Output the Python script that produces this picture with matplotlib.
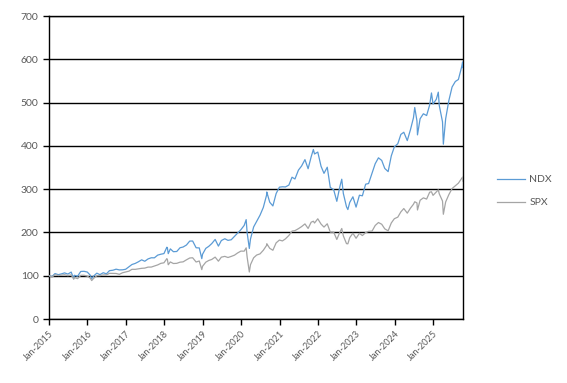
import matplotlib
matplotlib.use("Agg")
import matplotlib.pyplot as plt
import matplotlib.dates as mdates
import pandas as pd

# ---- data (indexed, start = 100) ----
ndx_dates = ["2015-01-02","2015-01-30","2015-02-27","2015-03-31","2015-04-30","2015-05-29","2015-06-30","2015-07-31","2015-08-24","2015-08-31","2015-09-30","2015-10-30","2015-11-30","2015-12-31",
             "2016-01-29","2016-02-11","2016-02-29","2016-03-31","2016-04-29","2016-05-31","2016-06-30","2016-07-29","2016-08-31","2016-09-30","2016-10-31","2016-11-30","2016-12-30",
             "2017-01-31","2017-02-28","2017-03-31","2017-04-28","2017-05-31","2017-06-30","2017-07-31","2017-08-31","2017-09-29","2017-10-31","2017-11-30","2017-12-29",
             "2018-01-26","2018-01-31","2018-02-08","2018-02-28","2018-03-29","2018-04-30","2018-05-31","2018-06-29","2018-07-31","2018-08-31","2018-09-28","2018-10-31","2018-11-30","2018-12-24","2018-12-31",
             "2019-01-31","2019-02-28","2019-03-29","2019-04-30","2019-05-31","2019-06-28","2019-07-31","2019-08-30","2019-09-30","2019-10-31","2019-11-29","2019-12-31",
             "2020-01-31","2020-02-19","2020-02-28","2020-03-20","2020-03-31","2020-04-30","2020-05-29","2020-06-30","2020-07-31","2020-08-31","2020-09-02","2020-09-30","2020-10-30","2020-11-30","2020-12-31",
             "2021-01-29","2021-02-26","2021-03-31","2021-04-30","2021-05-28","2021-06-30","2021-07-30","2021-08-31","2021-09-30","2021-10-29","2021-11-19","2021-11-30","2021-12-31",
             "2022-01-31","2022-02-28","2022-03-31","2022-04-29","2022-05-31","2022-06-30","2022-07-29","2022-08-16","2022-08-31","2022-09-30","2022-10-13","2022-10-31","2022-11-30","2022-12-30",
             "2023-01-31","2023-02-28","2023-03-31","2023-04-28","2023-05-31","2023-06-30","2023-07-31","2023-08-31","2023-09-29","2023-10-31","2023-11-30","2023-12-29",
             "2024-01-31","2024-02-29","2024-03-28","2024-04-30","2024-05-31","2024-06-28","2024-07-10","2024-07-31","2024-08-05","2024-08-30","2024-09-30","2024-10-31","2024-11-29","2024-12-16","2024-12-31",
             "2025-01-31","2025-02-19","2025-02-28","2025-03-31","2025-04-08","2025-04-30","2025-05-30","2025-06-30","2025-07-31","2025-08-29","2025-09-30","2025-10-08","2025-10-10"]
ndx_values = [100.0,98.1,105.1,102.5,104.4,106.6,103.9,108.5,93.4,101.1,98.9,109.9,110.3,108.6,
              101.2,93.3,99.3,106.0,102.6,107.0,104.4,111.8,112.8,115.2,113.5,113.7,115.0,
              120.9,126.0,128.5,132.0,136.8,133.5,138.9,141.6,141.4,147.7,149.8,151.2,
              166.0,164.3,151.1,162.1,155.6,156.1,164.7,166.4,171.0,180.1,180.3,164.7,164.3,139.5,149.6,
              163.3,167.9,174.4,183.9,168.5,181.4,185.5,181.8,183.2,191.1,198.7,206.5,
              216.3,229.7,200.0,163.1,184.7,212.8,225.9,240.1,257.8,286.3,293.6,269.9,261.3,290.0,304.7,
              305.6,305.2,309.5,327.7,323.6,344.1,353.6,368.4,347.3,374.7,391.8,381.4,385.8,
              353.0,336.6,350.8,303.9,298.9,272.0,306.1,323.1,290.1,259.4,253.0,269.6,282.5,258.6,
              286.1,284.7,311.6,313.1,337.0,358.9,372.5,366.5,347.9,340.7,377.0,397.8,
              405.1,426.6,431.6,412.3,438.2,465.3,488.8,457.8,425.5,462.8,474.3,470.2,494.8,522.4,496.7,
              507.8,524.2,493.7,455.7,404.0,462.7,504.5,536.1,548.9,553.5,583.5,594.0,581.0]

spx_dates = ndx_dates
spx_values = [100.0,96.9,102.3,100.5,101.4,102.4,100.2,102.2,92.0,95.8,93.3,101.0,101.1,99.3,
              94.3,88.9,93.9,100.1,100.3,101.9,102.0,105.6,105.5,105.3,103.3,106.9,108.8,
              110.7,114.9,114.8,115.8,117.2,117.7,120.0,120.1,122.4,125.1,128.7,129.9,
              139.6,137.2,125.4,131.9,128.3,128.7,131.4,132.1,136.8,141.0,141.6,131.8,134.1,114.2,121.8,
              131.4,135.3,137.7,143.1,133.7,143.0,144.8,142.2,144.7,147.6,152.6,157.0,
              156.8,164.5,143.5,108.7,125.6,141.5,147.9,150.6,158.9,170.1,174.0,163.4,158.9,176.0,182.5,
              180.5,185.2,193.1,203.2,204.3,208.8,213.6,219.8,209.3,223.8,226.0,221.9,231.6,
              219.4,212.5,220.1,200.8,200.8,183.9,200.7,209.2,192.2,174.2,173.8,188.1,198.3,186.6,
              198.1,192.9,199.7,202.6,203.1,216.2,223.0,219.0,208.4,203.8,222.0,231.8,
              235.5,247.6,255.3,244.7,256.5,265.3,271.0,268.3,252.0,274.4,280.0,277.2,293.1,294.0,285.8,
              293.5,298.5,289.4,272.7,242.1,270.6,287.3,301.5,308.0,313.9,325.0,328.1,318.4]

series_names = ["NDX", "SPX"]
y_ticks = [0, 100, 200, 300, 400, 500, 600, 700]
x_tick_years = list(range(2015, 2026))

# ---- plot ----
plt.rcParams['font.family'] = ['Lato', 'DejaVu Sans']
fig = plt.figure(figsize=(5.67, 3.83), dpi=100)
ax = fig.add_axes([0.0864, 0.167, 0.7302, 0.791])

nd = pd.to_datetime(ndx_dates)
sd = pd.to_datetime(spx_dates)
ax.plot(nd, ndx_values, color='#5B9BD5', lw=0.9, label=series_names[0], zorder=3)
ax.plot(sd, spx_values, color='#A5A5A5', lw=0.9, label=series_names[1], zorder=3)

ax.set_ylim(0, 700)
ax.set_yticks(y_ticks)
ax.set_xlim(pd.Timestamp("2015-01-01"), pd.Timestamp("2025-10-12"))
ax.set_xticks([pd.Timestamp(f"{y}-01-01") for y in x_tick_years])
ax.xaxis.set_major_formatter(mdates.DateFormatter("Jan-%Y"))
ax.grid(axis='y', color='black', lw=1.0, zorder=1)
for s in ax.spines.values():
    s.set_color('black')
    s.set_linewidth(1.0)
ax.tick_params(axis='both', direction='out', length=4, width=1, color='black',
               labelcolor='#595959')
ax.tick_params(axis='y', labelsize=7.5)
ax.tick_params(axis='x', labelsize=6.6, pad=3)
for lab in ax.get_xticklabels():
    lab.set_rotation(45)
    lab.set_ha('right')
    lab.set_rotation_mode('anchor')

leg = fig.legend(loc='center left', bbox_to_anchor=(0.86, 0.501), frameon=False,
                 fontsize=7.5, handlelength=2.7, labelspacing=1.3, handletextpad=0.4)
for t in leg.get_texts():
    t.set_color('#595959')

fig.savefig("out.png", dpi=100)
